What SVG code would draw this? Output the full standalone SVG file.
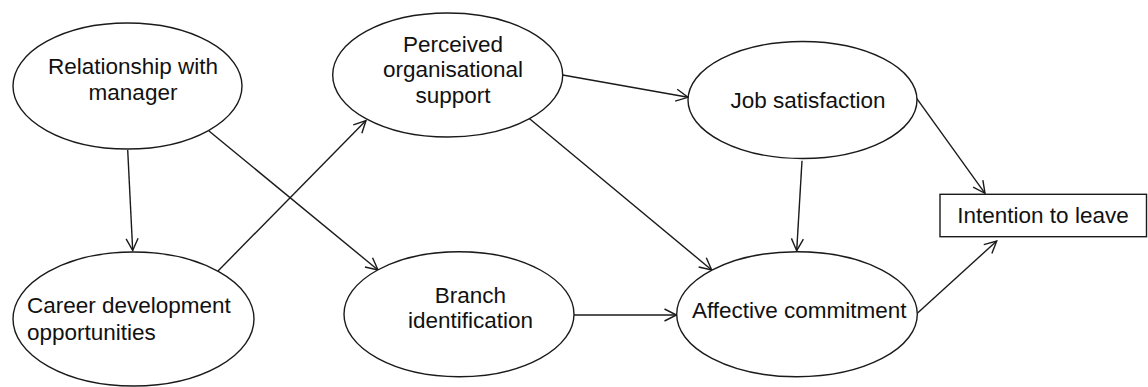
<svg xmlns="http://www.w3.org/2000/svg" width="1148" height="387" viewBox="0 0 1148 387">
  <style>
    .shape { fill: #ffffff; stroke: #1a1a1a; stroke-width: 1.4; }
    .label { font-family: "Liberation Sans", Arial, sans-serif; font-size: 22.5px; fill: #111111; }
    .mid { text-anchor: middle; }
    .edge { stroke: #1a1a1a; stroke-width: 1.4; fill: none; marker-end: url(#arrow); }
  </style>
  <defs>
    <marker id="arrow" markerUnits="userSpaceOnUse" markerWidth="30" markerHeight="30" viewBox="-15 -15 30 30" refX="0" refY="0" orient="auto">
      <path d="M-12,-6 L0,0 L-12,6" fill="none" stroke="#1a1a1a" stroke-width="1.4"/>
    </marker>
  </defs>
  <rect width="1148" height="387" fill="#ffffff"/>

  <g id="connectors">
    <line class="edge" x1="127.7" y1="150" x2="132.7" y2="250.5"/>
    <line class="edge" x1="209" y1="131" x2="378" y2="270"/>
    <line class="edge" x1="218" y1="271" x2="366" y2="120.5"/>
    <line class="edge" x1="562.7" y1="75" x2="688" y2="97.3"/>
    <line class="edge" x1="529" y1="118.3" x2="711.7" y2="270"/>
    <line class="edge" x1="802" y1="160.7" x2="796.7" y2="250.7"/>
    <line class="edge" x1="916.7" y1="98.3" x2="985" y2="193.3"/>
    <line class="edge" x1="917.3" y1="313.3" x2="996.7" y2="241"/>
    <line class="edge" x1="574" y1="315" x2="676.5" y2="315"/>
  </g>

  <g id="relationship-with-manager">
    <ellipse class="shape" cx="127.5" cy="86" rx="114.5" ry="63"/>
    <text class="label mid" x="133" y="74">Relationship with</text>
    <text class="label mid" x="133" y="100">manager</text>
  </g>

  <g id="career-development">
    <ellipse class="shape" cx="133.5" cy="319" rx="120.5" ry="67"/>
    <text class="label" x="27" y="313">Career development</text>
    <text class="label" x="27" y="340">opportunities</text>
  </g>

  <g id="perceived-organisational-support">
    <ellipse class="shape" cx="447.7" cy="75" rx="115" ry="62"/>
    <text class="label mid" x="453" y="51.7">Perceived</text>
    <text class="label mid" x="453" y="77.3">organisational</text>
    <text class="label mid" x="453" y="103">support</text>
  </g>

  <g id="job-satisfaction">
    <ellipse class="shape" cx="802.5" cy="100" rx="114.5" ry="58.5"/>
    <text class="label mid" x="808" y="108">Job satisfaction</text>
  </g>

  <g id="intention-to-leave">
    <rect class="shape" x="940" y="194.3" width="206.5" height="42.4"/>
    <text class="label mid" x="1043" y="223.3">Intention to leave</text>
  </g>

  <g id="branch-identification">
    <ellipse class="shape" cx="459" cy="314.2" rx="115" ry="62.5"/>
    <text class="label mid" x="470.5" y="303.3">Branch</text>
    <text class="label mid" x="470.5" y="328.3">identification</text>
  </g>

  <g id="affective-commitment">
    <ellipse class="shape" cx="797" cy="314.2" rx="120.3" ry="62.5"/>
    <text class="label mid" x="799.3" y="318.3">Affective commitment</text>
  </g>
</svg>
